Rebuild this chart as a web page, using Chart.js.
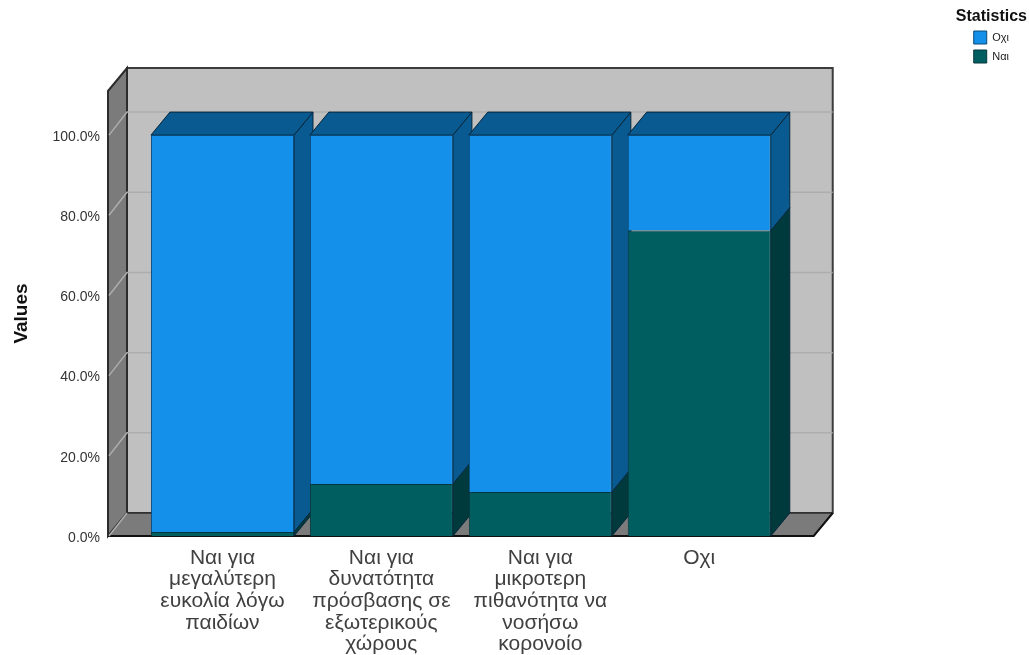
<!DOCTYPE html>
<html>
<head>
<meta charset="utf-8">
<title>Statistics</title>
<script src="https://cdn.jsdelivr.net/npm/chart.js@4/dist/chart.umd.min.js"></script>
<style>
  html, body { margin: 0; padding: 0; background: #fff; }
  #wrap { width: 1029px; height: 655px; }
</style>
</head>
<body>
<div id="wrap"><canvas id="myChart" width="1029" height="655"></canvas></div>
<script>
const categories = [
  ["Ναι για", "μεγαλύτερη", "ευκολία λόγω", "παιδίων"],
  ["Ναι για", "δυνατότητα", "πρόσβασης σε", "εξωτερικούς", "χώρους"],
  ["Ναι για", "μικροτερη", "πιθανότητα να", "νοσήσω", "κορονοίο"],
  ["Οχι"]
];
const yesValues = [1, 13, 11, 76.2];
const noValues = [99, 87, 89, 23.8];
const seriesNames = ["Ναι", "Οχι"];

const depthX = 19;
const depthY = 23;
const sideGap = 35;

function quad(ctx, pts, fill, stroke, lw) {
  ctx.beginPath();
  ctx.moveTo(pts[0][0], pts[0][1]);
  for (let i = 1; i < pts.length; i++) ctx.lineTo(pts[i][0], pts[i][1]);
  ctx.closePath();
  if (fill) { ctx.fillStyle = fill; ctx.fill(); }
  if (stroke) { ctx.strokeStyle = stroke; ctx.lineWidth = lw || 1; ctx.stroke(); }
}

// walls, floor, gridlines and the 3d faces of the bars
const box3d = {
  id: "box3d",
  afterLayout(chart) {
    // legend goes under the title, a little left of its right edge
    chart.legend.left -= 8;
    chart.legend.right -= 8;
    chart.legend.top += 25;
  },
  beforeDatasetsDraw(chart) {
    const ctx = chart.ctx;
    const a = chart.chartArea;
    const yScale = chart.scales.y;
    const l = a.left - sideGap, r = a.right + sideGap;
    const t = a.top, b = a.bottom;
    ctx.save();

    quad(ctx, [[l + depthX, t - depthY], [r + depthX, t - depthY], [r + depthX, b - depthY], [l + depthX, b - depthY]], "#c0c0c0", "#3c3c3c", 2);
    quad(ctx, [[l, t], [l + depthX, t - depthY], [l + depthX, b - depthY], [l, b]], "#7b7b7b", "#2c2c2c", 2);
    quad(ctx, [[l, b], [l + depthX, b - depthY], [r + depthX, b - depthY], [r, b]], "#7b7b7b");

    ctx.strokeStyle = "#2c2c2c";
    ctx.lineWidth = 1.5;
    ctx.beginPath();
    ctx.moveTo(l + depthX, b - depthY);
    ctx.lineTo(r + depthX, b - depthY);
    ctx.stroke();
    ctx.strokeStyle = "#111";
    ctx.lineWidth = 2;
    ctx.beginPath();
    ctx.moveTo(l, b);
    ctx.lineTo(r, b);
    ctx.lineTo(r + depthX, b - depthY);
    ctx.stroke();

    ctx.strokeStyle = "#adadad";
    ctx.lineWidth = 1.5;
    yScale.ticks.forEach(tick => {
      const y = yScale.getPixelForValue(tick.value);
      ctx.beginPath();
      ctx.moveTo(l + 1, y);
      ctx.lineTo(l + depthX, y - depthY);
      if (tick.value > 0) ctx.lineTo(r + depthX, y - depthY);
      ctx.stroke();
    });

    const sideCols = ["#003a3d", "#0a5a92"];
    categories.forEach((c, i) => {
      chart.data.datasets.forEach((ds, d) => {
        const bar = chart.getDatasetMeta(d).data[i];
        const p = bar.getProps(["x", "y", "base", "width"]);
        const x2 = p.x + p.width / 2, x1 = p.x - p.width / 2;
        quad(ctx, [[x2, p.y], [x2 + depthX, p.y - depthY], [x2 + depthX, p.base - depthY], [x2, p.base]], sideCols[d], "#07263a", 1);
        if (d === chart.data.datasets.length - 1) {
          quad(ctx, [[x1, p.y], [x1 + depthX, p.y - depthY], [x2 + depthX, p.y - depthY], [x2, p.y]], sideCols[d], "#07263a", 1);
        }
      });
    });
    ctx.restore();
  }
};

new Chart(document.getElementById("myChart"), {
  type: "bar",
  data: {
    labels: categories,
    datasets: [
      { label: seriesNames[0], data: yesValues, backgroundColor: "#005e60", borderColor: "#07363c", borderWidth: 1 },
      { label: seriesNames[1], data: noValues, backgroundColor: "#1490ea", borderColor: "#0b4a78", borderWidth: 1 }
    ]
  },
  options: {
    responsive: false,
    animation: false,
    categoryPercentage: 1,
    barPercentage: 0.9,
    layout: { padding: { top: 0, left: 10, right: 2, bottom: 0 } },
    plugins: {
      tooltip: { enabled: false },
      title: {
        display: true,
        text: "Statistics",
        align: "end",
        color: "#111",
        font: { family: "Liberation Sans", size: 16, weight: "bold", lineHeight: 1 },
        padding: { top: 9, bottom: 0 }
      },
      legend: {
        position: "right",
        align: "start",
        reverse: true,
        labels: { boxWidth: 13, boxHeight: 13, padding: 6, color: "#222", font: { family: "Liberation Sans", size: 11 } }
      }
    },
    scales: {
      x: {
        stacked: true,
        grid: { display: false },
        border: { display: false },
        ticks: { autoSkip: false, maxRotation: 0, minRotation: 0, padding: 3, color: "#404040", font: { family: "Liberation Sans", size: 21, lineHeight: 1.03 } },
        afterFit(s) { s.height = 119; }
      },
      y: {
        stacked: true,
        min: 0,
        max: 111,
        grid: { display: false },
        border: { display: false },
        title: { display: true, text: "Values", color: "#111", padding: 0, font: { family: "Liberation Sans", size: 19, weight: "bold" } },
        ticks: { stepSize: 20, includeBounds: false, padding: 35, labelOffset: 2, color: "#333", font: { family: "Liberation Sans", size: 14 }, callback: v => v.toFixed(1) + "%" },
        afterFit(s) { s.width = 133; }
      },
      spacerTop: {
        position: "top",
        display: true,
        grid: { display: false },
        border: { display: false },
        ticks: { display: false },
        afterFit(s) { s.height = 66; }
      },
      spacer: {
        position: "right",
        display: true,
        grid: { display: false },
        border: { display: false },
        ticks: { display: false },
        afterFit(s) { s.width = 197; }
      }
    }
  },
  plugins: [box3d]
});
</script>
</body>
</html>
